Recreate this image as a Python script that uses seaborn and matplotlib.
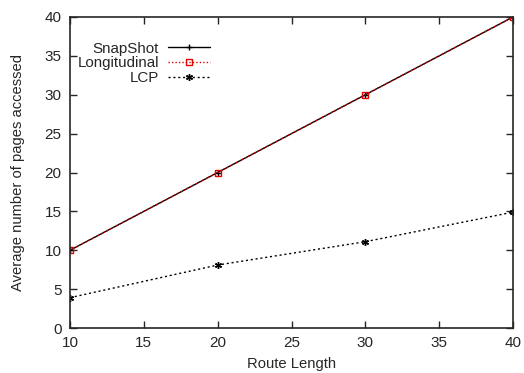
import matplotlib
matplotlib.use("Agg")
import matplotlib.pyplot as plt
import seaborn as sns
import pandas as pd

route_length = [10, 20, 30, 40]
snapshot = [10, 20, 30, 40]
longitudinal = [10, 20, 30, 40]
lcp = [3.9, 8.1, 11.1, 14.9]

sns.set_style("ticks")
plt.rcParams['font.family'] = ['Liberation Sans', 'DejaVu Sans']

fig = plt.figure(figsize=(5.24, 3.73), dpi=100)
ax = fig.add_axes([70/524, 45/373, (513-70)/524, (328-17)/373])

df = pd.DataFrame({"x": route_length, "SnapShot": snapshot,
                   "Longitudinal": longitudinal, "LCP": lcp})

sns.lineplot(data=df, x="x", y="SnapShot", ax=ax, color="black", lw=1.0,
             marker="+", markersize=5, mew=1, mec="black", label="SnapShot")
sns.lineplot(data=df, x="x", y="Longitudinal", ax=ax, color="#e00000", lw=1.0,
             linestyle=(0, (1, 1.5)), marker="s", markersize=5, mfc="none",
             mec="#e00000", mew=1, label="Longitudinal")
sns.lineplot(data=df, x="x", y="LCP", ax=ax, color="black", lw=1.0,
             linestyle=(0, (1.5, 2)), marker=(6, 2, 0), markersize=5, mew=1,
             mec="black", label="LCP")

ax.set_xlim(10, 40)
ax.set_ylim(0, 40)
ax.set_xticks([10, 15, 20, 25, 30, 35, 40])
ax.set_yticks([0, 5, 10, 15, 20, 25, 30, 35, 40])
ax.tick_params(direction="in", top=True, right=True, length=5, width=1,
               labelsize=11, pad=6)
for s in ax.spines.values():
    s.set_visible(True)
    s.set_linewidth(1.2)
ax.set_xlabel("Route Length", fontsize=10.6, labelpad=5)
ax.set_ylabel("Average number of pages accessed", fontsize=10.6, labelpad=14)

leg = ax.legend(loc="upper left", bbox_to_anchor=(0.003, 0.94), frameon=False,
                markerfirst=False, fontsize=10.9, handlelength=2.75,
                labelspacing=0.05, borderaxespad=0, handletextpad=0.6)
for col in leg._legend_handle_box.get_children():
    col.align = "right"

fig.savefig("out.png", dpi=100)
